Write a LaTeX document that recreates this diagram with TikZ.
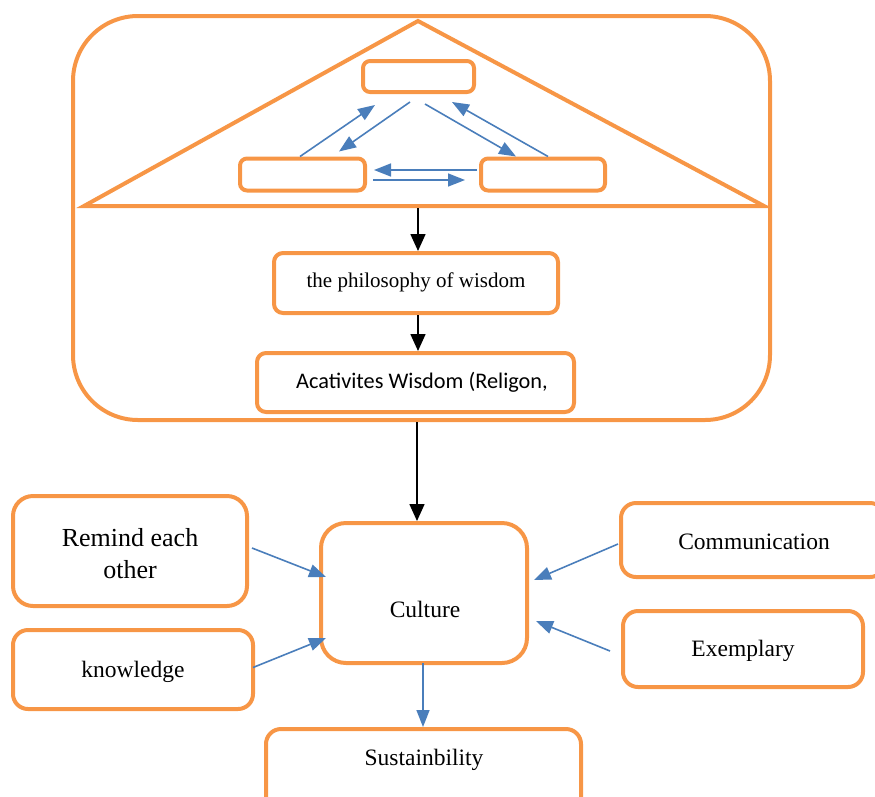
\documentclass[tikz,border=0pt]{standalone}
\usepackage{fontspec}
\setmainfont{Liberation Serif}
\newfontfamily\calib{Carlito}
\usetikzlibrary{arrows.meta,calc}
\definecolor{orng}{HTML}{F79646}
\definecolor{blu}{HTML}{4A7EBB}
\begin{document}
\begin{tikzpicture}[x=1pt,y=-1pt,
  box/.style={draw=orng, line width=4pt, rounded corners=#1, inner sep=0pt, line join=round},
  box/.default=8pt,
  bar/.style={-{Triangle[length=17pt,width=13pt]}, draw=blu, line width=1.6pt},
  kar/.style={-{Triangle[length=17pt,width=15pt]}, draw=black, line width=1.6pt},
  txt/.style={font=\fontsize{23.5}{32}\selectfont, inner sep=0pt, align=center}]
\useasboundingbox (0,0) rectangle (875,796);
% outer frame and triangle
\draw[draw=orng, line width=4pt, rounded corners=65pt] (73,16) rectangle (770,420);
\draw[draw=orng, line width=4pt, line join=miter] (418,21) -- (764,206) -- (84,206) -- cycle;
% triangle boxes
\node[box=7pt, minimum width=111pt, minimum height=31pt] (top) at (418.5,76.5) {};
\node[box=7pt, minimum width=125pt, minimum height=32pt] (lft) at (302.5,174.5) {};
\node[box=7pt, minimum width=124pt, minimum height=32pt] (rgt) at (543,174.5) {};
% arrows in triangle
\draw[bar] ($(lft.north)+(-2.5,0)$) -- ($(top.south)+(-43.5,11)$);
\draw[bar] ($(top.south)+(-8.5,8)$) -- ($(lft.north)+(36.5,-5)$);
\draw[bar] ($(top.south)+(6.5,10)$) -- ($(rgt.north)+(-27,0)$);
\draw[bar] ($(rgt.north)+(5,0)$) -- ($(top.south)+(33.5,8)$);
\draw[bar] ($(rgt.west)+(-2,-4.5)$) -- ($(lft.east)+(7,-4.5)$);
\draw[bar] ($(lft.east)+(6,5.5)$) -- ($(rgt.west)+(-14,5.5)$);
% middle boxes
\node[box=9pt, minimum width=284pt, minimum height=60pt] (phil) at (416,283) {};
\node[font=\fontsize{21}{25}\selectfont, inner sep=0pt] (philt) at (416,282) {the philosophy of wisdom};
\node[box=9pt, minimum width=317pt, minimum height=59pt] (act) at (415.5,382.5) {};
\node[font=\calib\fontsize{22.3}{26}\selectfont, inner sep=0pt] (actt) at (422,382) {Acativites Wisdom (Religon,};
\coordinate (base) at (418,208);
\draw[kar] (base) -- (base |- phil.north);
\draw[kar] (phil.south -| base) -- (act.north -| base);
\coordinate (frameb) at (417,422);
% lower part
\node[box=25pt, minimum width=206pt, minimum height=140pt] (cul) at (424,593) {};
\node[txt] (cult) at (425,609) {Culture};
\draw[kar] (frameb) -- (cul.north -| frameb);
\node[box=20pt, minimum width=234pt, minimum height=110pt] (rem) at (130,551) {};
\node[txt, font=\fontsize{26}{32}\selectfont] (remt) at (130,554) {Remind each\\other};
\node[box=15pt, minimum width=240pt, minimum height=79pt] (kno) at (133,669.5) {};
\node[txt] (knot) at (133,672) {knowledge};
\node[box=15pt, minimum width=264pt, minimum height=74pt] (com) at (753,540) {};
\node[txt] (comt) at (754,542) {Communication};
\node[box=15pt, minimum width=240pt, minimum height=76pt] (exe) at (743,649) {};
\node[txt] (exet) at (743,651) {Exemplary};
\node[box=15pt, minimum width=315pt, minimum height=84pt] (sus) at (423.5,771) {};
\node[txt] (sust) at (424,760) {Sustainbility};
% blue arrows
\draw[bar] ($(rem.east)+(3,-3)$) -- ($(cul.west)+(7,-16)$);
\draw[bar] ($(kno.east)+(-2,-2)$) -- ($(cul.west)+(7,45)$);
\draw[bar] ($(com.west)+(-1,4)$) -- ($(cul.east)+(5,-13)$);
\draw[bar] ($(exe.west)+(-11,2)$) -- ($(cul.east)+(7,28)$);
\draw[bar] ($(cul.south)+(-1,-2)$) -- ($(sus.north)+(-0.5,0)$);
\end{tikzpicture}
\end{document}
